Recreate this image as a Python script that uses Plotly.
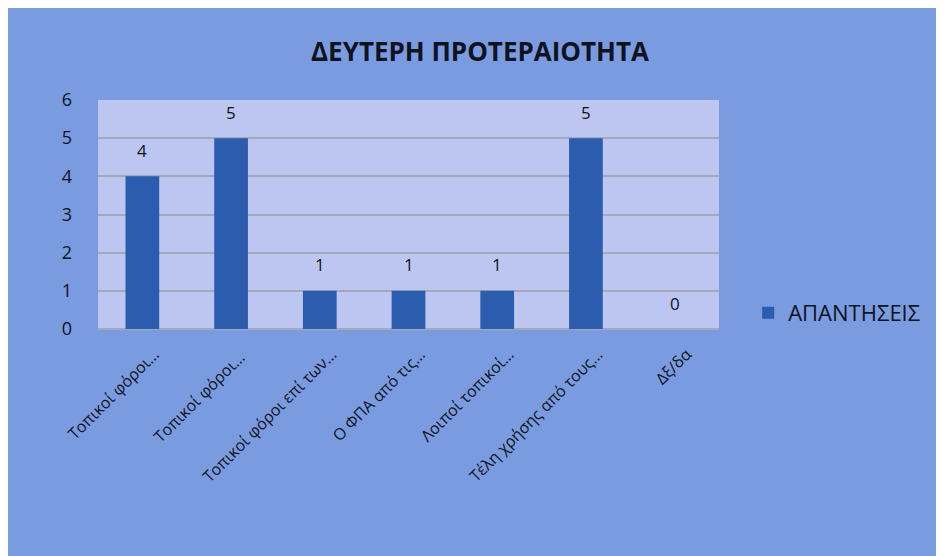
import plotly.graph_objects as go

categories = [
    "Τοπικοί φόροι…",
    "Τοπικοί φόροι… ",
    "Τοπικοί φόροι επί των…",
    "Ο ΦΠΑ από τις…",
    "Λοιποί τοπικοί…",
    "Τέλη χρήσης από τους…",
    "Δξ/δα",
]
values = [4, 5, 1, 1, 1, 5, 0]
series_name = "ΑΠΑΝΤΗΣΕΙΣ"
title_text = "ΔΕΥΤΕΡΗ ΠΡΟΤΕΡΑΙΟΤΗΤΑ"
y_ticks = [0, 1, 2, 3, 4, 5, 6]

FONT = "Open Sans"
TXT = "#0e1320"

fig = go.Figure()
fig.add_trace(go.Bar(
    x=categories,
    y=values,
    name=series_name,
    marker=dict(color="#2b5cae", line=dict(width=0)),
    width=0.38,
    showlegend=True,
))

# value labels above bars, placed through the axes from the data
for c, v in zip(categories, values):
    fig.add_annotation(
        x=c, y=v, xref="x", yref="y",
        text=str(v), showarrow=False,
        yanchor="middle", yshift=26,
        font=dict(family=FONT, size=17, color=TXT),
    )

fig.update_layout(
    width=944,
    height=556,
    paper_bgcolor="#7b9be0",
    plot_bgcolor="#bcc6f1",
    margin=dict(l=90, r=233, t=92, b=235),
    title=dict(
        text="<b>" + title_text + "</b>",
        x=0.5, xref="container", xanchor="center",
        y=0.921, yref="container", yanchor="middle",
        font=dict(family=FONT, size=26, color=TXT),
    ),
    font=dict(family=FONT, color=TXT),
    xaxis=dict(
        type="category",
        tickangle=-45,
        tickfont=dict(family=FONT, size=16, color=TXT),
        showgrid=False,
        showline=False,
        ticks="",
        ticklabelshift=12,
        ticklabelstandoff=12,
    ),
    yaxis=dict(
        range=[0, 6],
        tickvals=y_ticks,
        tickfont=dict(family=FONT, size=18, color=TXT),
        showgrid=True,
        gridcolor="#a4a8b8",
        gridwidth=2,
        zeroline=True,
        zerolinecolor="#a4a8b8",
        zerolinewidth=2,
        ticklabelstandoff=25,
        showline=False,
    ),
    legend=dict(
        x=1.047, xanchor="left",
        y=0.07, yanchor="middle",
        font=dict(family=FONT, size=22, color=TXT),
        bgcolor="rgba(0,0,0,0)",
        itemwidth=30,
    ),
)

fig.write_html("out.html")
